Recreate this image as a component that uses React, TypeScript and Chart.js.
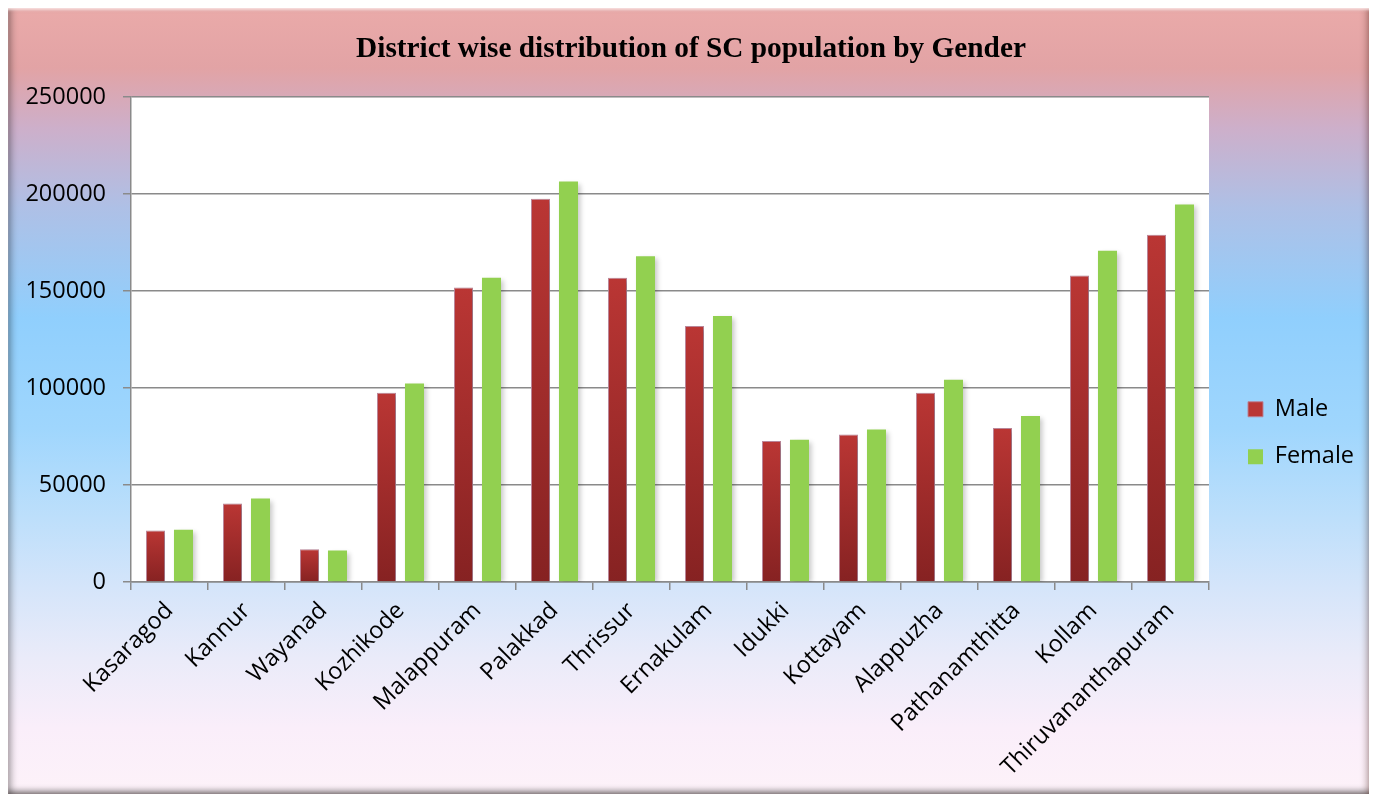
import React, { useEffect, useRef } from "react";
import { Chart, registerables } from "chart.js";

Chart.register(...registerables);

const chartTitle = "District wise distribution of SC population by Gender";
const districts = [
  "Kasaragod",
  "Kannur",
  "Wayanad",
  "Kozhikode",
  "Malappuram",
  "Palakkad",
  "Thrissur",
  "Ernakulam",
  "Idukki",
  "Kottayam",
  "Alappuzha",
  "Pathanamthitta",
  "Kollam",
  "Thiruvananthapuram",
];
const maleValues = [26600, 40500, 16900, 97600, 151900, 197600, 156900, 132000, 72700, 76000, 97600, 79400, 158100, 179100];
const femaleValues = [27000, 43000, 16200, 102300, 156900, 206500, 168000, 137100, 73400, 78600, 104300, 85600, 170800, 194700];
const seriesNames = ["Male", "Female"];
const yMin = 0;
const yMax = 250000;
const yStep = 50000;

const W = 1366;
const H = 786;
const AREA_LEFT = 123;
const AREA_RIGHT = 1201;
const AREA_BOTTOM = 574;
const GRID = "#8a8a8a";
const SANS = "'Open Sans', 'Noto Sans', sans-serif";
const FS = 23.5;

const plotBg = {
  id: "plotBg",
  beforeDraw(chart: any) {
    const a = chart.chartArea;
    if (!a) return;
    const c = chart.ctx;
    c.save();
    c.fillStyle = "#ffffff";
    c.fillRect(a.left, a.top, a.right - a.left, a.bottom - a.top);
    c.restore();
  },
};

const barShadow = {
  id: "barShadow",
  beforeDatasetsDraw(chart: any) {
    const c = chart.ctx;
    c.save();
    c.shadowColor = "rgba(0,0,0,0.22)";
    c.shadowBlur = 5;
    c.shadowOffsetX = 3;
    c.shadowOffsetY = 2;
  },
  afterDatasetsDraw(chart: any) {
    chart.ctx.restore();
  },
};

const legendPlace = {
  id: "legendPlace",
  beforeLayout(chart: any) {
    const lg = chart.legend;
    if (lg && !lg.__patched) {
      const orig = lg.fit.bind(lg);
      lg.fit = function () {
        orig();
        this.width = W - AREA_RIGHT;
      };
      lg.__patched = true;
    }
  },
  afterLayout(chart: any) {
    const lg = chart.legend;
    if (!lg) return;
    lg.left += 15;
    lg.right += 15;
    lg.top += 32;
    lg.bottom += 32;
  },
};

function maleColor(ctx: any) {
  const chart = ctx.chart;
  if (!chart.chartArea || ctx.type !== "data" || !chart.scales.y) return "#a52e2c";
  const ys = chart.scales.y;
  const top = ys.getPixelForValue(ctx.raw);
  const bottom = ys.getPixelForValue(0);
  if (!isFinite(top) || !isFinite(bottom) || top === bottom) return "#a52e2c";
  const g = chart.ctx.createLinearGradient(0, top, 0, bottom);
  g.addColorStop(0, "#ba3634");
  g.addColorStop(1, "#862222");
  return g;
}

export default function App() {
  const ref = useRef<HTMLCanvasElement>(null);

  useEffect(() => {
    if (!ref.current) return;
    const chart = new Chart(ref.current, {
      type: "bar",
      data: {
        labels: districts,
        datasets: [
          {
            label: seriesNames[0],
            data: maleValues,
            backgroundColor: maleColor,
            borderColor: "rgba(185,130,150,0.95)",
            borderWidth: 1,
            barPercentage: 0.68,
            categoryPercentage: 0.727,
          },
          {
            label: seriesNames[1],
            data: femaleValues,
            backgroundColor: "#92d050",
            borderColor: "#92d050",
            borderWidth: 0,
            barPercentage: 0.68,
            categoryPercentage: 0.727,
          },
        ],
      },
      options: {
        responsive: false,
        animation: false,
        layout: { padding: 0 },
        plugins: {
          title: {
            display: true,
            text: chartTitle,
            color: "#000",
            font: { family: "'Liberation Serif', 'Times New Roman', serif", size: 29.3, weight: "bold" },
            padding: { top: 24, bottom: 30 },
          },
          legend: {
            display: true,
            position: "right",
            align: "center",
            labels: {
              color: "#000",
              font: { family: SANS, size: FS },
              boxWidth: 15,
              boxHeight: 15,
              padding: 24,
            },
          },
          tooltip: { enabled: false },
        },
        scales: {
          x: {
            grid: {
              display: true,
              drawOnChartArea: false,
              drawTicks: true,
              tickLength: 8,
              color: GRID,
              lineWidth: 1.5,
            },
            border: { display: true, color: GRID, width: 1.5 },
            ticks: {
              color: "#000",
              font: { family: SANS, size: FS },
              maxRotation: 45,
              minRotation: 45,
              autoSkip: false,
              padding: 7,
            },
            afterFit(s: any) {
              s.height = H - AREA_BOTTOM;
            },
          },
          y: {
            min: yMin,
            max: yMax,
            grid: {
              color: GRID,
              lineWidth: 1.5,
              drawTicks: true,
              tickLength: 8,
            },
            border: { display: true, color: GRID, width: 1.5 },
            ticks: {
              stepSize: yStep,
              color: "#000",
              font: { family: SANS, size: FS },
              padding: 17,
              callback: (v: any) => String(v),
            },
            afterFit(s: any) {
              s.width = AREA_LEFT;
            },
          },
        },
      },
      plugins: [plotBg, barShadow, legendPlace],
    });
    return () => chart.destroy();
  }, []);

  return (
    <div
      style={{
        position: "relative",
        width: W,
        height: H,
        background:
          "linear-gradient(to bottom, #eaaaa9 0px, #e2a3a5 60px, #cdafca 120px, #aec0e6 200px, #90cffd 310px, #9fd6fd 420px, #bddffb 510px, #d5e5fa 580px, #eaebf9 650px, #faeefa 720px, #fdf2f9 786px)",
        boxShadow:
          "0 0 0 1px #8c8c8c, inset 0 3px 3px -1px rgba(255,235,235,0.9), inset 7px 0 7px -4px rgba(0,0,0,0.35), inset -9px 0 8px -4px rgba(60,20,10,0.6), inset 0 -7px 6px -4px rgba(0,0,0,0.45)",
      }}
    >
      <canvas ref={ref} width={W} height={H} style={{ position: "absolute", left: 0, top: 0 }} />
    </div>
  );
}
